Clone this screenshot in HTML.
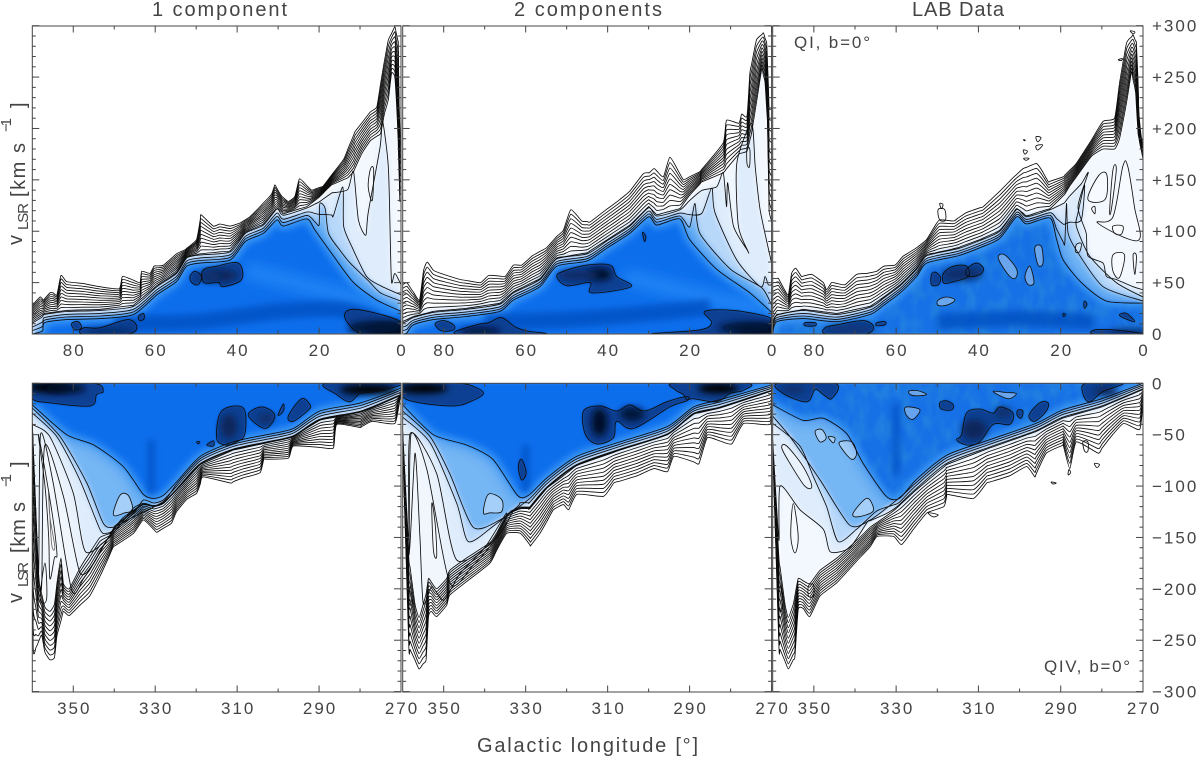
<!DOCTYPE html>
<html lang="en">
<head>
<meta charset="utf-8">
<title>Galactic longitude-velocity diagrams</title>
<style>
html,body{margin:0;padding:0;background:#fff;width:1200px;height:759px;overflow:hidden}
svg{display:block}
text{font-family:"Liberation Sans",sans-serif;fill:#444}
.tick-label{font-size:17px;letter-spacing:2px}
.title{font-size:20px}
.ylab{font-size:20px}
.ysub{font-size:15px}
.note{font-size:17px}
</style>
</head>
<body>
<svg id="fig" xmlns="http://www.w3.org/2000/svg" width="1200" height="759" viewBox="0 0 1200 759">
<defs>
<filter id="soft" filterUnits="userSpaceOnUse" x="0" y="0" width="1200" height="759"><feGaussianBlur stdDeviation="2.6"/></filter>
<filter id="tight" filterUnits="userSpaceOnUse" x="0" y="0" width="1200" height="759"><feGaussianBlur stdDeviation="1"/></filter>
<filter id="softer" filterUnits="userSpaceOnUse" x="0" y="0" width="1200" height="759"><feGaussianBlur stdDeviation="3.5"/></filter>
<filter id="softest" filterUnits="userSpaceOnUse" x="0" y="0" width="1200" height="759"><feGaussianBlur stdDeviation="7"/></filter>
<filter id="mottle" x="0" y="0" width="100%" height="100%">
<feTurbulence type="fractalNoise" baseFrequency="0.09 0.05" numOctaves="2" seed="7"/>
<feColorMatrix type="matrix" values="0 0 0 0 0.02  0 0 0 0 0.25  0 0 0 0 0.72  1.6 0 0 0 -0.62"/>
</filter>
</defs>
<rect width="1200" height="759" fill="#fff"/>
<g id="plots"></g>
<text class="title" x="152" y="16" textLength="135" lengthAdjust="spacing">1 component</text>
<text class="title" x="514" y="16" textLength="148" lengthAdjust="spacing">2 components</text>
<text class="title" x="912" y="16" textLength="92" lengthAdjust="spacing">LAB Data</text>
<text class="note" x="794" y="48" textLength="76" lengthAdjust="spacing">QI, b=0°</text>
<text class="note" x="1044" y="672" textLength="86" lengthAdjust="spacing">QIV, b=0°</text>
<text class="title" x="477" y="752" textLength="221" lengthAdjust="spacing">Galactic longitude [°]</text>
<g>
<text class="ylab" transform="translate(22,245) rotate(-90)">v</text>
<text class="ysub" transform="translate(28,230) rotate(-90)" textLength="27" lengthAdjust="spacing">LSR</text>
<text class="ylab" transform="translate(25,197) rotate(-90)" textLength="54" lengthAdjust="spacing">[km s</text>
<text class="ysub" transform="translate(11,132) rotate(-90)" textLength="14" lengthAdjust="spacing">−1</text>
<text class="ylab" transform="translate(25,108) rotate(-90)">]</text>
</g>
<g>
<text class="ylab" transform="translate(22,603) rotate(-90)">v</text>
<text class="ysub" transform="translate(28,587) rotate(-90)" textLength="25" lengthAdjust="spacing">LSR</text>
<text class="ylab" transform="translate(25,553) rotate(-90)" textLength="51" lengthAdjust="spacing">[km s</text>
<text class="ysub" transform="translate(11,487) rotate(-90)" textLength="13" lengthAdjust="spacing">−1</text>
<text class="ylab" transform="translate(25,467) rotate(-90)">]</text>
</g>
</svg>
<script>
// ---- tick data ----
const lonMajorTop = [80, 60, 40, 20, 0];
const lonMinorTop = [70, 50, 30, 10];
const lonMajorBottom = [350, 330, 310, 290, 270];
const lonMinorBottom = [340, 320, 300, 280];
const velMajorTop = [0, 50, 100, 150, 200, 250, 300];
const velMinorTop = [10, 20, 30, 40, 60, 70, 80, 90, 110, 120, 130, 140, 160, 170, 180, 190, 210, 220, 230, 240, 260, 270, 280, 290];
const velMajorBottom = [0, -50, -100, -150, -200, -250, -300];
const velMinorBottom = [-10, -20, -30, -40, -60, -70, -80, -90, -110, -120, -130, -140, -160, -170, -180, -190, -210, -220, -230, -240, -260, -270, -280, -290];
const velLabelsTop = ["0", "+50", "+100", "+150", "+200", "+250", "+300"];
const velLabelsBottom = ["0", "−50", "−100", "−150", "−200", "−250", "−300"];
const stackLevels = [0, 0.1, 0.2, 0.3, 0.4, 0.5, 0.6, 0.7, 0.8, 0.9, 1];

// ---- Quadrant I, 1 component: [longitude, velocity] ----
const edgeQ1One = [[90,28],[88.1,36],[87.3,33],[85.7,40],[84.9,40],[84,38],[83,57],[81.6,51],[77.5,49],[73.5,46],[68.8,44],[68,56],[65.7,53],[63.7,50],[63.3,61],[61.3,59],[60.3,66],[58,67],[54.8,78],[52.7,82],[49.9,92],[48.8,116],[45.8,105],[44.2,107],[41.7,105],[39.3,108],[36.9,114],[34.4,124],[31.6,136],[30.8,145],[29.1,134],[27.5,129],[25.9,134],[24.8,151],[21.8,140],[19,144],[16.5,157],[14,170],[11.2,197],[7.5,216],[5.9,221],[4.3,260],[3.1,286],[1.5,299],[0.65,283],[0.5,228],[0.2,190],[0,190]];
const baseQ1One = [[90,12],[87,20],[81.6,23],[73.5,24],[65.3,28],[59.6,47],[54.8,60],[52.3,75],[49,78],[41.7,81],[38,99],[33.6,107],[30.3,123],[28.7,117],[23,124],[20,133],[17,145],[13,152],[11.6,158],[9.5,176],[7.5,188],[5,195],[4,215],[3.1,228],[2.3,254],[1.5,250],[1.1,225],[0.7,190],[0.3,130],[0,130]];
const ridgeQ1One = [[90,0],[87.5,3],[87,11],[81.6,14],[73.5,15],[65.3,19],[59.6,38],[54.8,51],[52.3,66],[49,69],[41.7,72],[38,90],[33.6,98],[30.3,111],[28.7,105],[23,112],[21,101],[16.5,76],[11.6,50],[5.9,33],[0,22]];
const fan1Q1One = [[19.8,127],[18.5,122],[17.7,98],[15,82],[12.4,69],[8,52],[5,40],[0,32]];
const fan2Q1One = [[14.2,143],[14,105],[12,85],[8.4,56],[5,47],[0,38]];
const fan3Q1One = [[11.6,158],[10.4,111],[8.6,96],[8,118],[5.1,182],[4.5,207],[3.1,163],[2.6,90],[2.3,50],[1.5,59],[0,48]];
const darkQ1One = [
 [[51.5,56],[50.3,61],[48.7,56],[49.5,48],[51.1,50]],
 [[48.3,62],[45,66],[39.7,69],[38.9,53],[43.4,46],[44.6,50],[48.1,50]],
 [[77.5,0],[77.5,6],[73.5,6],[66.6,14],[64.5,6],[67,0]],
 [[80.4,10],[78.8,12],[78,6],[79.6,4]],
 [[64.1,17],[62.9,20],[62.7,15],[63.7,13]],
 [[13.7,20],[11.6,24],[5.9,20],[0.2,12],[0.2,0],[9.2,0],[12.9,10]]
];
const paleQ1One = [[[7.5,160],[6.7,160],[7,130],[8,143]]];
const coreQ1One = [[2,4,6,6,"#000"],[6,6,7,7,"#05133a"],[71,3,6,3,"#062a6a"],[44,57,4,6,"#08285c"],[47,56,3,5,"#0a3270"]];
const bandQ1One = [[70,10],[50,12],[30,22],[15,24],[6,14]];
const glowQ1One = [[38,62],[26,50],[12,35],[2,26]];

// ---- Quadrant I, 2 components ----
const edgeQ1Two = [[90,48],[89,50],[87.8,43],[85.9,33],[84.9,62],[84,70],[82.5,62],[80,58],[76,53],[71,50],[69,57],[65,56],[63,67],[61,67],[58.4,76],[54.9,84],[52.4,95],[50.8,101],[49,121],[46.3,110],[44.3,109],[41,119],[37,131],[34.6,139],[31.3,156],[29.8,157],[28.7,161],[26.4,153],[24.8,172],[21.5,150],[20,153],[17.5,158],[11.8,186],[11,208],[8,205],[7.3,214],[6,212],[5.3,254],[3.7,286],[2,293],[1.2,283],[0.8,244],[0.8,220],[0,219]];
const baseQ1Two = [[90,12],[87.4,17],[82.5,22],[74.4,25],[66.3,30],[63,41],[56.5,54],[52.4,74],[45,79],[40,92],[34.6,106],[30,124],[28,116],[22.4,122],[20,135],[17,148],[11.8,157],[8,175],[6,178],[4.9,195],[3.7,225],[2.4,258],[1.6,245],[1,205],[0.6,120],[0,110]];
const ridgeQ1Two = [[90,0],[89,1],[87.4,9],[82.5,14],[74.4,17],[66.3,22],[63,33],[56.5,46],[52.4,66],[45,71],[40,84],[34.6,98],[30,114],[28,106],[22.4,112],[20,92],[13.4,63],[5.3,40],[0,21]];
const fan1Q1Two = [[18.7,127],[17.5,98],[10,63],[2.4,45],[0,28]];
const fan2Q1Two = [[14.6,142],[13.8,118],[8.5,72],[2.7,46],[1.6,56],[0.8,48],[0,48]];
const fan3Q1Two = [[11.8,157],[11,124],[10.7,147],[9.3,105],[6,82],[5.7,80],[8.1,105],[8.5,166],[4.9,205],[4,163],[2.8,121],[0.4,76],[0,70]];
const darkQ1Two = [
 [[82.1,10],[80,13],[77.6,9],[77.6,4],[80.5,3]],
 [[76.8,0],[72,9],[69,11],[65.9,16],[62.6,7],[59.8,3],[55.7,0]],
 [[52.4,56],[50.8,61],[45.1,67],[39.4,67],[37.8,56],[34.3,46],[43.9,40],[44.3,50],[50,47]],
 [[16.3,22],[9.3,23],[1.2,17],[0.2,12],[0.2,0],[28.9,0],[17.5,4],[14.6,11]],
 [[31.5,99],[30.7,95],[31,90]]
];
const paleQ1Two = [[[6,181],[5.3,179],[5.4,163],[6,166]]];
const coreQ1Two = [[2,4,7,5,"#000"],[6,6,7,6,"#05133a"],[71,3,5,3,"#020c2a"],[42,58,3,6,"#020c2a"],[47,57,5,5,"#0a2c66"]];
const bandQ1Two = [[70,12],[50,14],[30,20],[15,26]];
const glowQ1Two = [[36,56],[26,46],[12,32],[2,24]];

// ---- Quadrant I, LAB data ----
const edgeQ1Lab = [[90,54],[88.6,54],[87.4,45],[86.2,38],[85.4,59],[84.4,64],[83,56],[80.5,58],[77.7,50],[76.9,43],[75.7,50],[72.4,48],[69.6,58],[67.1,59],[64.7,61],[63,66],[60.3,67],[58.2,76],[55,84],[52.6,92],[50.6,105],[49.4,111],[46,110],[43,118],[38.8,124],[34.8,139],[31.6,152],[29.1,161],[25.9,166],[24.7,160],[23,148],[19.4,153],[16.2,166],[12.5,189],[9.7,207],[6.9,210],[5.7,244],[4,283],[2.4,291],[1.6,283],[1.2,244],[1,215],[0.4,191],[0,189]];
const baseQ1Lab = [[90,12],[89,19],[82.5,24],[74.4,20],[66.3,27],[63,36],[59,48],[55,64],[52.6,77],[45,84],[39.6,92],[34.8,101],[30.7,122],[28.3,115],[22.6,122],[19,136],[17.8,144],[12.5,173],[9.7,180],[6.9,180],[5.7,190],[4,225],[2.8,255],[1.8,235],[1.2,195],[0,170]];
const ridgeQ1Lab = [[90,0],[89,12],[82.5,15],[74.4,12],[66.3,19],[63,28],[59,40],[55,56],[52.6,69],[45,76],[39.6,84],[34.8,93],[30.7,114],[28.3,107],[22.6,113],[21,92],[19.4,72],[15,50],[8.9,32],[0,30]];
const fan1Q1Lab = [[18.6,127],[18.2,98],[15.8,79],[9.7,46],[0,32]];
const fan2Q1Lab = [[14.2,145],[15.8,118],[16.2,105],[13,76],[6.5,50],[0,36]];
const fan3Q1Lab = [[13.3,157],[15.8,124],[13.8,98],[13.4,76],[9.7,69],[8.9,56],[6.5,53],[2.4,46],[0,43]];
const darkQ1Lab = [
 [[51.4,58],[50.4,60],[49.2,55],[49.7,48],[51.4,48]],
 [[48.5,59],[46.1,66],[42.9,66],[42.5,56],[46.9,50],[48.5,50]],
 [[42.9,63],[40.5,69],[38.8,64],[39.6,58],[42.5,56]],
 [[77.3,6],[74.4,9],[68,13],[65.5,7],[67.6,0],[76.9,0]],
 [[82.1,11],[79.7,11],[79.7,8],[82.1,8]],
 [[64.7,11],[62.7,12],[62.7,9],[64.7,8]],
 [[11.7,4],[6.9,4],[0.8,1],[0.8,0],[11.7,0]],
 [[5.7,19],[4,20],[2,12],[4.9,16]],
 [[14.2,32],[13.6,29],[14.2,25],[14.4,29]],
 [[19.4,20],[18.8,19],[19.3,17]]
];
const paleQ1Lab = [
 [[49.8,33],[47.7,36],[45.7,33],[47.7,28],[49.8,28]],
 [[35.2,74],[33.6,77],[30.7,63],[31.1,54],[32.8,58]],
 [[26.3,84],[24.7,85],[24.3,69],[25.5,67]],
 [[28.7,56],[27.5,66],[26.5,50],[27.9,48]],
 [[13.4,131],[10.8,154],[8.8,155],[9.2,131]],
 [[8.1,121],[7.3,160],[6.5,160],[7.7,121]],
 [[11,108],[7.3,114],[4.9,163],[3.7,163],[2.1,124],[1.2,91]],
 [[7.3,77],[4.5,77],[5.7,55],[7.3,61]],
 [[7.3,105],[4.9,105],[5.3,97],[6.9,98]],
 [[2.4,77],[1.6,76],[2,58]],
 [[12.5,122],[11.7,124],[11.7,117]],
 [[16.2,87],[15,88],[15.4,80],[16.4,80]]
];
const strayQ1Lab = [
 [[29.1,189],[28.7,189],[28.7,188]],
 [[26,192],[24.8,191],[25.6,187]],
 [[26,183],[24.4,184],[25.6,179]],
 [[29.1,179],[28.1,178],[28.7,175]],
 [[29,171],[27.7,171],[28.4,169]],
 [[6,267],[5,268],[5.3,266]],
 [[3.1,295],[2,294],[2.4,292]],
 [[49.4,127],[48.6,126],[49,122]],
 [[49.8,121],[48.2,121],[48,111],[49.4,111]]
];
const coreQ1Lab = [[3,2,5,3,"#06245c"],[44,58,5,6,"#0a2f6a"],[71,5,6,4,"#0a3478"]];
const bandQ1Lab = [[50,12],[30,15],[12,12]];
const glowQ1Lab = [];

// ---- Quadrant IV, 1 component ----
const edgeQ4One = [[360,-60],[359.8,-256],[359.1,-257],[357.7,-245],[356.9,-262],[355.7,-269],[354.6,-267],[354,-246],[352.4,-222],[351,-226],[348.4,-216],[346,-207],[343.5,-188],[340.2,-159],[335.3,-146],[332.9,-133],[329.6,-145],[326,-136],[324.8,-125],[322.3,-113],[319.9,-107],[318.3,-91],[311.7,-97],[308.5,-92],[304.4,-87],[303.5,-74],[297.5,-73],[296.3,-61],[286.5,-63],[285.7,-40],[280,-43],[277,-37],[271.5,-39],[270.2,-13],[270,-10]];
const baseQ4One = [[360,-40],[358.5,-190],[357.7,-205],[356.9,-218],[355.7,-222],[354.6,-215],[354,-195],[353,-170],[352.4,-195],[351,-200],[348.4,-180],[346,-165],[343.5,-150],[341,-146],[339.8,-140],[335.3,-125],[332.9,-118],[330.4,-120],[328,-117],[324.8,-104],[319,-79],[311,-65],[302.8,-58],[296.3,-52],[289.8,-36],[279.8,-28],[270.2,-12],[270,-10]];
const ridgeQ4One = [[360,-21],[351.6,-50],[345,-60],[337.8,-81],[332.9,-108],[330.4,-112],[328,-109],[324.8,-96],[319,-71],[311,-57],[302.8,-50],[296.3,-44],[289.8,-27],[279.8,-19],[270.2,-5],[270,-4]];
const fan1Q4One = [[360,-24],[353.2,-52],[346.7,-97],[342.7,-136],[340.2,-140],[335.3,-130],[328,-115]];
const fan2Q4One = [[360,-29],[354,-52],[348.4,-94],[343.5,-142],[341.9,-146],[339.8,-142],[335,-125]];
const fan3Q4One = [[360,-40],[355.7,-52],[350,-107],[347,-164],[341,-149],[337,-130]];
const fan4Q4One = [[357,-61],[352.4,-110],[348.4,-184],[345,-175],[343,-160],[339,-136]];
const fan5Q4One = [[358,-50],[354.9,-97],[350.4,-201],[347.5,-190],[344,-168],[340,-140]];
const darkQ4One = [
 [[360,-15],[355.7,-19],[345.9,-22],[344.3,-11],[342.7,-8],[345.1,0],[360,0]],
 [[288.2,0],[285.7,-11],[282.5,-18],[280,-10],[276,-8],[270.2,-2],[270.2,0]],
 [[315,-53],[313.8,-27],[308.5,-24],[308.1,-49],[310.1,-57],[313,-60]],
 [[307.3,-31],[304,-23],[300.8,-31],[303.2,-44]],
 [[300,-31],[298.7,-20],[298.7,-27]],
 [[297.5,-32],[294.3,-15],[292.2,-21],[292.6,-26],[296.3,-37]],
 [[317.4,-60],[315.8,-56],[315.8,-61]],
 [[319.9,-57],[319.1,-57],[319.5,-59]]
];
const paleQ4One = [
 [[340.2,-128],[338.6,-109],[336.6,-109],[335.5,-123],[337.4,-126]],
 [[358.1,-210],[356.9,-175],[356.5,-210]],
 [[356,-107],[355.7,-130],[354.5,-159],[355.3,-156]],
 [[358.5,-50],[356.9,-100],[356,-150],[355.7,-190],[354.6,-170],[354,-165],[355.4,-120]]
];
const coreQ4One = [[356,-4,5,5,"#000"],[352,-5,5,5,"#020c2a"],[278,-6,7,5,"#000"],[312,-42,2,12,"#07255c"],[303,-34,2,5,"#0a2f6a"]];
const bandQ4One = [[331,-55],[331,-108]];
const glowQ4One = [];

// ---- Quadrant IV, 2 components ----
const edgeQ4Two = [[360,-60],[360,-240],[358.2,-259],[356,-278],[354.3,-269],[353.7,-227],[353,-222],[351.7,-227],[349.3,-216],[348.5,-206],[344.4,-193],[338.7,-175],[337,-162],[334.6,-146],[331.3,-146],[328.8,-158],[326.5,-146],[323.2,-123],[320.8,-118],[319.5,-123],[317.5,-108],[311,-110],[308.5,-97],[302.8,-90],[298.7,-83],[295.4,-86],[293.8,-71],[287.7,-78],[285.7,-53],[279.7,-59],[276.8,-39],[270.4,-40],[270,-19]];
const baseQ4Two = [[360,-50],[358.5,-170],[357,-215],[356,-228],[355,-215],[354.3,-205],[353.7,-190],[351.7,-200],[349.3,-190],[348.5,-182],[344.4,-170],[338.7,-155],[337,-145],[334.6,-128],[331.3,-122],[329,-122],[324.8,-102],[317.5,-80],[307,-65],[295.4,-50],[289,-30],[282.6,-24],[270.4,-8],[270,-7]];
const ridgeQ4Two = [[360,-21],[352.5,-50],[344.4,-60],[338,-74],[332,-109],[329.3,-109],[324.8,-92],[317.5,-71],[307,-57],[295.4,-42],[289,-23],[282.6,-16],[270.4,-2],[270,-1]];
const fan1Q4Two = [[360,-27],[353.3,-52],[348.5,-88],[342.8,-140],[336.3,-133],[329,-112]];
const fan2Q4Two = [[360,-33],[353.3,-58],[346.8,-117],[344,-154],[337.9,-139],[332,-120]];
const fan3Q4Two = [[358.2,-49],[351.7,-88],[346.8,-172],[337,-150],[333,-124]];
const fan4Q4Two = [[358,-50],[354.1,-84],[348.5,-194],[343,-178],[338,-155],[334,-126]];
const fan5Q4Two = [[357,-68],[355.8,-149],[355,-214],[352.9,-198],[350,-211],[346,-185],[340,-160],[335,-128]];
const darkQ4Two = [
 [[360,-13],[355.8,-19],[347.6,-22],[343.6,-18],[340.3,-10],[342.8,-3],[346.8,0],[360,0]],
 [[293.6,0],[293.6,-6],[291.5,-11],[290.7,-16],[289.1,-15],[283.4,-18],[280.2,-10],[276.9,-7],[276,0]],
 [[315.9,-27],[311.9,-22],[307.8,-27],[304.6,-21],[300.9,-27],[295.6,-18],[290.7,-13],[290.7,-17],[294.8,-23],[303.7,-44],[307.8,-37],[308.6,-53],[312.7,-59],[315.5,-49]],
 [[331.8,-81],[331,-74],[329.9,-87],[331,-94]]
];
const paleQ4Two = [
 [[340.3,-126],[339.1,-108],[335.9,-113],[335.9,-125],[338.7,-126]],
 [[352.9,-117],[352.1,-136],[351.7,-168],[352.5,-162]],
 [[358.2,-198],[357.6,-214],[358.4,-214]]
];
const coreQ4Two = [[355,-5,6,5,"#000"],[283,-5,5,5,"#000"],[312,-38,2,14,"#020c2a"],[304,-30,3,7,"#05163a"]];
const bandQ4Two = [[330,-60],[330,-105]];
const glowQ4Two = [];

// ---- Quadrant IV, LAB data ----
const edgeQ4Lab = [[360,-60],[360,-240],[358.2,-259],[356.2,-278],[354.6,-266],[353.8,-220],[352.6,-219],[351,-227],[348.5,-207],[344.4,-194],[339.6,-173],[336.3,-159],[334.6,-149],[330.6,-149],[328.7,-157],[325.8,-142],[322.5,-126],[318.4,-120],[317.6,-108],[311.2,-112],[308,-97],[302.4,-90],[298.3,-81],[296.3,-91],[293.5,-68],[289.4,-60],[287.8,-83],[286.2,-57],[280.9,-68],[278,-53],[274.7,-39],[270.8,-45],[270,-19]];
const baseQ4Lab = [[360,-60],[358.5,-170],[357,-215],[356.2,-228],[355,-215],[353.8,-190],[351,-195],[348.5,-182],[344.4,-170],[339.6,-153],[336.3,-140],[330.6,-124],[325.2,-104],[317.7,-79],[307.3,-63],[296,-47],[289.6,-34],[280,-23],[270,-6]];
const ridgeQ4Lab = [[360,-21],[352.6,-36],[347.7,-34],[342,-49],[338,-78],[332.4,-110],[329.2,-112],[325.2,-94],[317.7,-70],[307.3,-55],[296,-39],[289.6,-26],[280,-15],[270,0]];
const fan1Q4Lab = [[360,-32],[355.8,-52],[348.5,-94],[341.3,-138],[336.3,-133],[328.2,-108]];
const fan2Q4Lab = [[360,-39],[353.4,-61],[350.1,-91],[346.9,-120],[344.1,-154],[339.6,-142],[335,-125]];
const fan3Q4Lab = [[358.2,-100],[353.4,-123],[347.7,-142],[346,-164],[341.3,-160],[337,-135]];
const darkQ4Lab = [
 [[314.1,-50],[312.9,-29],[309.7,-25],[306.4,-29],[304.8,-23],[301.6,-29],[302.4,-40],[306.4,-40],[309.7,-57],[312.9,-60],[315.3,-55]],
 [[319.4,-19],[317.8,-17],[316.1,-21],[316.6,-26],[319,-25]],
 [[300.4,-26],[299.2,-27],[299.6,-34],[300.6,-31]],
 [[297.7,-31],[295.1,-19],[293.1,-19],[293.5,-27],[296.3,-37]],
 [[358.6,0],[357.4,-10],[351.7,-18],[349.7,-6],[347.7,-11],[345.7,-15],[344.9,0]],
 [[284.6,-10],[283,-18],[279.7,-8],[274.9,0],[283.8,0]]
];
const paleQ4Lab = [
 [[349.7,-47],[348.1,-45],[347,-53],[348.5,-57]],
 [[346.5,-52],[344.9,-53],[345.3,-58]],
 [[343.7,-57],[340.8,-57],[339.6,-68],[340.8,-74],[343.3,-63]],
 [[357.8,-63],[356.6,-61],[352.6,-81],[350.5,-100],[352.2,-100],[355.8,-78]],
 [[327.9,-24],[326.7,-23],[324.2,-26],[325.9,-35],[327.5,-31]],
 [[327,-8],[325,-7],[322.6,-11],[325.9,-12]],
 [[306.4,-8],[303.2,-9],[300.8,-10],[302.8,-15]],
 [[340.4,-126],[337.2,-112],[335.6,-120],[336,-126],[339.6,-130]],
 [[355,-117],[353.8,-149],[354.6,-165],[355.6,-149]],
 [[358,-198],[357.5,-215],[358.2,-222],[358.7,-205]],
 [[351.3,-197],[350.1,-196],[350.1,-207],[351.3,-207]]
];
const strayQ4Lab = [
 [[284.6,-57],[283.4,-57],[283.4,-66],[284.2,-66]],
 [[281.8,-78],[280.6,-79],[281.2,-82]],
 [[292.3,-96],[291.1,-97],[291.9,-98]],
 [[322.2,-126],[319.8,-128],[321,-130]],
 [[288,-84],[287.6,-87],[288.2,-89]]
];
const coreQ4Lab = [[311,-45,3,10,"#07255c"],[304,-28,2,5,"#0a2f6a"],[355,-6,3,4,"#0a2f6a"],[279,-8,3,5,"#0a2a60"]];
const bandQ4Lab = [[330,-20],[330,-90]];
const glowQ4Lab = [];

// ---- layout ----
const panelConfigs = [
  {key:"q1-one", lab:false, left:32.3, right:401, top:26, bottom:334, lonL:90, lonR:0, zeroY:334, edge:edgeQ1One, base:baseQ1One, ridge:ridgeQ1One, fans:[fan1Q1One,fan2Q1One,fan3Q1One], dark:darkQ1One, pale:paleQ1One, stray:[], core:coreQ1One, band:bandQ1One, glow:glowQ1One, blue:"#0a6eec", major:lonMajorTop, minor:lonMinorTop, vMajor:velMajorTop, vMinor:velMinorTop},
  {key:"q1-two", lab:false, left:402.7, right:771.6, top:26, bottom:334, lonL:90, lonR:0, zeroY:334, edge:edgeQ1Two, base:baseQ1Two, ridge:ridgeQ1Two, fans:[fan1Q1Two,fan2Q1Two,fan3Q1Two], dark:darkQ1Two, pale:paleQ1Two, stray:[], core:coreQ1Two, band:bandQ1Two, glow:glowQ1Two, blue:"#0a6eec", major:lonMajorTop, minor:lonMinorTop, vMajor:velMajorTop, vMinor:velMinorTop},
  {key:"q1-lab", lab:true, left:772.7, right:1143, top:26, bottom:334, lonL:90, lonR:0, zeroY:334, edge:edgeQ1Lab, base:baseQ1Lab, ridge:ridgeQ1Lab, fans:[fan1Q1Lab,fan2Q1Lab,fan3Q1Lab], dark:darkQ1Lab, pale:paleQ1Lab, stray:strayQ1Lab, core:coreQ1Lab, band:bandQ1Lab, glow:glowQ1Lab, blue:"#1470e6", major:lonMajorTop, minor:lonMinorTop, vMajor:velMajorTop, vMinor:velMinorTop, labels:velLabelsTop},
  {key:"q4-one", lab:false, left:32.3, right:401, top:383.3, bottom:692, lonL:360, lonR:270, zeroY:383.3, edge:edgeQ4One, base:baseQ4One, ridge:ridgeQ4One, fans:[fan1Q4One,fan2Q4One,fan3Q4One,fan4Q4One,fan5Q4One], dark:darkQ4One, pale:paleQ4One, stray:[], core:coreQ4One, band:bandQ4One, glow:glowQ4One, blue:"#0a6eec", major:lonMajorBottom, minor:lonMinorBottom, vMajor:velMajorBottom, vMinor:velMinorBottom},
  {key:"q4-two", lab:false, left:402.7, right:771.6, top:383.3, bottom:692, lonL:360, lonR:270, zeroY:383.3, edge:edgeQ4Two, base:baseQ4Two, ridge:ridgeQ4Two, fans:[fan1Q4Two,fan2Q4Two,fan3Q4Two,fan4Q4Two,fan5Q4Two], dark:darkQ4Two, pale:paleQ4Two, stray:[], core:coreQ4Two, band:bandQ4Two, glow:glowQ4Two, blue:"#0a6eec", major:lonMajorBottom, minor:lonMinorBottom, vMajor:velMajorBottom, vMinor:velMinorBottom},
  {key:"q4-lab", lab:true, left:772.7, right:1143, top:383.3, bottom:692, lonL:360, lonR:270, zeroY:383.3, edge:edgeQ4Lab, base:baseQ4Lab, ridge:ridgeQ4Lab, fans:[fan1Q4Lab,fan2Q4Lab,fan3Q4Lab], dark:darkQ4Lab, pale:paleQ4Lab, stray:strayQ4Lab, core:coreQ4Lab, band:bandQ4Lab, glow:glowQ4Lab, blue:"#1470e6", major:lonMajorBottom, minor:lonMinorBottom, vMajor:velMajorBottom, vMinor:velMinorBottom, labels:velLabelsBottom}
];
const fanBlend = [0.72, 0.44, 0.12, 0.05, 0.02];
const fanFill = ["#74b6f4", "#b8d8f9", "#dfecfb", "#e9f2fc", "#f1f6fd"];

const NS = "http://www.w3.org/2000/svg";
const plots = document.getElementById("plots");

function at(series, l) {
  if (l >= series[0][0]) return series[0][1];
  for (let i = 1; i < series.length; i++) {
    const a = series[i - 1], b = series[i];
    if (l >= b[0] && a[0] !== b[0]) {
      return a[1] + (b[1] - a[1]) * (a[0] - l) / (a[0] - b[0]);
    }
  }
  return series[series.length - 1][1];
}
function lonsOf(a, b) {
  const s = new Set();
  a.forEach(p => s.add(p[0]));
  b.forEach(p => s.add(p[0]));
  return Array.from(s).sort((x, y) => y - x);
}
function mix(a, b, f) {
  return lonsOf(a, b).map(l => [l, at(a, l) + (at(b, l) - at(a, l)) * f]);
}
function fanLine(fan, base, ridge, f) {
  const first = fan[0][0], last = fan[fan.length - 1][0];
  const blended = mix(base, ridge, f);
  return blended.filter(p => p[0] > first).concat(fan, blended.filter(p => p[0] < last));
}

function drawPanel(c) {
  const sx = (c.right - c.left) / (c.lonL - c.lonR);
  const sy = 308.3 / 300;
  const xAxis = l => c.left + (c.lonL - l) * sx;
  const yAxis = v => c.zeroY - v * sy;
  // cardinal-spline path through data points, mapped by the axis functions
  function curve(pts, closed, tension) {
    const P = pts.map(p => [xAxis(p[0]), yAxis(p[1])]);
    const n = P.length;
    if (n < 2) return "";
    let s = "M" + P[0][0].toFixed(1) + " " + P[0][1].toFixed(1);
    const get = i => closed ? P[(i + n) % n] : P[Math.max(0, Math.min(n - 1, i))];
    const segs = closed ? n : n - 1;
    for (let i = 0; i < segs; i++) {
      const p0 = get(i - 1), p1 = get(i), p2 = get(i + 1), p3 = get(i + 2);
      const c1x = p1[0] + (p2[0] - p0[0]) * tension, c1y = p1[1] + (p2[1] - p0[1]) * tension;
      const c2x = p2[0] - (p3[0] - p1[0]) * tension, c2y = p2[1] - (p3[1] - p1[1]) * tension;
      s += "C" + c1x.toFixed(1) + " " + c1y.toFixed(1) + " " + c2x.toFixed(1) + " " + c2y.toFixed(1) + " " + p2[0].toFixed(1) + " " + p2[1].toFixed(1);
    }
    return s + (closed ? "Z" : "");
  }
  const area = pts => curve(pts, false, 0.12) + "L" + xAxis(pts[pts.length - 1][0]).toFixed(1) + " " + yAxis(0).toFixed(1) + "L" + xAxis(pts[0][0]).toFixed(1) + " " + yAxis(0).toFixed(1) + "Z";

  const panel = document.createElementNS(NS, "g");
  
  
  plots.appendChild(panel);

  const clip = document.createElementNS(NS, "clipPath");
  clip.setAttribute("id", "clip-" + c.key);
  const clipRect = document.createElementNS(NS, "rect");
  clipRect.setAttribute("x", c.left);
  clipRect.setAttribute("y", c.top);
  clipRect.setAttribute("width", c.right - c.left);
  clipRect.setAttribute("height", c.bottom - c.top);
  clip.appendChild(clipRect);
  panel.appendChild(clip);

  const ridgeClip = document.createElementNS(NS, "clipPath");
  ridgeClip.setAttribute("id", "ridgeclip-" + c.key);
  const ridgeClipPath = document.createElementNS(NS, "path");
  ridgeClipPath.setAttribute("d", area(c.ridge));
  ridgeClip.appendChild(ridgeClipPath);
  panel.appendChild(ridgeClip);

  const holder = document.createElementNS(NS, "g");
  holder.setAttribute("clip-path", "url(#clip-" + c.key + ")");
  
  
  panel.appendChild(holder);

  // ---- blurred intensity fill ----
  const fills = document.createElementNS(NS, "g");
  fills.setAttribute("filter", "url(#soft)");
  
  
  holder.appendChild(fills);

  function fillArea(parent, pts, color, name) {
    const el = document.createElementNS(NS, "path");
    el.setAttribute("d", area(pts));
    el.setAttribute("fill", color);
    
    
    parent.appendChild(el);
  }
  fillArea(fills, c.base, "#f3f8fe", "emission-pale-region");
  for (let i = c.fans.length - 1; i >= 0; i--) {
    fillArea(fills, fanLine(c.fans[i], c.base, c.ridge, fanBlend[i]), fanFill[i], "emission-band-" + i);
  }
  const halo = document.createElementNS(NS, "g");
  halo.setAttribute("filter", "url(#softest)");
  halo.setAttribute("opacity", "0.75");
  
  
  holder.appendChild(halo);
  fillArea(halo, c.ridge, c.blue, "emission-halo-region");

  const sat = document.createElementNS(NS, "g");
  sat.setAttribute("filter", "url(#tight)");
  
  
  holder.appendChild(sat);
  fillArea(sat, c.ridge, c.blue, "emission-saturated-region");

  const inner = document.createElementNS(NS, "g");
  inner.setAttribute("clip-path", "url(#ridgeclip-" + c.key + ")");
  
  
  holder.appendChild(inner);

  if (c.lab) {
    const noise = document.createElementNS(NS, "rect");
    noise.setAttribute("x", c.left);
    noise.setAttribute("y", c.top);
    noise.setAttribute("width", c.right - c.left);
    noise.setAttribute("height", c.bottom - c.top);
    noise.setAttribute("filter", "url(#mottle)");
    
    
    inner.appendChild(noise);
  }

  const rim = document.createElementNS(NS, "path");
  rim.setAttribute("d", curve(c.ridge, false, 0.12));
  rim.setAttribute("fill", "none");
  rim.setAttribute("stroke", "#3f9bf6");
  rim.setAttribute("stroke-width", "7");
  rim.setAttribute("filter", "url(#softer)");
  
  
  inner.appendChild(rim);

  if (c.glow.length > 1) {
    const glow = document.createElementNS(NS, "path");
    glow.setAttribute("d", curve(c.glow, false, 0.15));
    glow.setAttribute("fill", "none");
    glow.setAttribute("stroke", "#2387f6");
    glow.setAttribute("stroke-width", "14");
    glow.setAttribute("filter", "url(#softest)");
    
    
    inner.appendChild(glow);
  }
  const band = document.createElementNS(NS, "path");
  band.setAttribute("d", curve(c.band, false, 0.15));
  band.setAttribute("fill", "none");
  band.setAttribute("stroke", "#0450c0");
  band.setAttribute("stroke-width", c.vMajor[1] < 0 ? "7" : "16");
  band.setAttribute("stroke-opacity", "0.8");
  band.setAttribute("filter", "url(#softer)");
  
  
  inner.appendChild(band);

  c.pale.forEach(pts => {
    const el = document.createElementNS(NS, "path");
    el.setAttribute("d", curve(pts, true, 0.17));
    el.setAttribute("fill", "#fff");
    el.setAttribute("fill-opacity", "0.35");
    el.setAttribute("stroke", "#111");
    el.setAttribute("stroke-width", "0.85");
    
    
    holder.appendChild(el);
  });
  c.dark.forEach(pts => {
    const el = document.createElementNS(NS, "path");
    el.setAttribute("d", curve(pts, true, 0.17));
    el.setAttribute("fill", "#0c3f92");
    el.setAttribute("filter", "url(#tight)");
    
    
    holder.appendChild(el);
  });
  c.core.forEach(o => {
    const el = document.createElementNS(NS, "ellipse");
    el.setAttribute("cx", xAxis(o[0]));
    el.setAttribute("cy", yAxis(o[1]));
    el.setAttribute("rx", o[2] * sx);
    el.setAttribute("ry", o[3] * sy);
    el.setAttribute("fill", o[4]);
    el.setAttribute("filter", "url(#softer)");
    
    
    holder.appendChild(el);
  });

  // ---- contour lines ----
  const lines = document.createElementNS(NS, "g");
  lines.setAttribute("fill", "none");
  lines.setAttribute("stroke", "#0c0c0c");
  lines.setAttribute("stroke-width", "0.85");
  lines.setAttribute("stroke-linejoin", "round");
  
  
  holder.appendChild(lines);

  stackLevels.forEach((f, i) => {
    const el = document.createElementNS(NS, "path");
    el.setAttribute("d", curve(mix(c.edge, c.base, f), false, 0.08));
    
    
    lines.appendChild(el);
  });
  c.fans.forEach((fan, i) => {
    const el = document.createElementNS(NS, "path");
    el.setAttribute("d", curve(fanLine(fan, c.base, c.ridge, fanBlend[i]), false, 0.12));
    
    
    lines.appendChild(el);
  });
  const ridgeLine = document.createElementNS(NS, "path");
  ridgeLine.setAttribute("d", curve(c.ridge, false, 0.12));
  
  
  lines.appendChild(ridgeLine);
  c.dark.concat(c.stray).forEach(pts => {
    const el = document.createElementNS(NS, "path");
    el.setAttribute("d", curve(pts, true, 0.17));
    
    
    lines.appendChild(el);
  });

  // ---- frame and ticks ----
  const frame = document.createElementNS(NS, "rect");
  frame.setAttribute("x", c.left);
  frame.setAttribute("y", c.top);
  frame.setAttribute("width", c.right - c.left);
  frame.setAttribute("height", c.bottom - c.top);
  frame.setAttribute("fill", "none");
  frame.setAttribute("stroke", "#444");
  frame.setAttribute("stroke-width", "1");
  
  
  panel.appendChild(frame);

  const ticks = document.createElementNS(NS, "g");
  ticks.setAttribute("stroke", "#444");
  ticks.setAttribute("stroke-width", "1");
  
  
  panel.appendChild(ticks);

  function tick(x1, y1, x2, y2, name) {
    const el = document.createElementNS(NS, "line");
    el.setAttribute("x1", x1);
    el.setAttribute("y1", y1);
    el.setAttribute("x2", x2);
    el.setAttribute("y2", y2);
    
    
    ticks.appendChild(el);
  }
  function lonTicks(list, len, name) {
    list.forEach(l => {
      tick(xAxis(l), c.top, xAxis(l), c.top + len, name);
      tick(xAxis(l), c.bottom, xAxis(l), c.bottom - len, name);
    });
  }
  function velTicks(list, len, name) {
    list.forEach(v => {
      tick(c.left, yAxis(v), c.left + len, yAxis(v), name);
      tick(c.right, yAxis(v), c.right - len, yAxis(v), name);
    });
  }
  lonTicks(c.major, 6.5, "longitude-major-tick");
  lonTicks(c.minor, 3.5, "longitude-minor-tick");
  velTicks(c.vMajor, 7, "velocity-major-tick");
  velTicks(c.vMinor, 3.5, "velocity-minor-tick");

  c.major.forEach(l => {
    const el = document.createElementNS(NS, "text");
    el.setAttribute("class", "tick-label");
    el.setAttribute("x", xAxis(l) + 1);
    el.setAttribute("y", c.bottom + 22);
    el.setAttribute("text-anchor", "middle");
    
    
    el.textContent = String(l);
    panel.appendChild(el);
  });
  if (c.labels) {
    c.labels.forEach((t, i) => {
      const el = document.createElementNS(NS, "text");
      el.setAttribute("class", "tick-label");
      el.setAttribute("x", 1152);
      el.setAttribute("y", yAxis(c.vMajor[i]) + 6);
      
      
      el.textContent = t;
      panel.appendChild(el);
    });
  }
}
panelConfigs.forEach(drawPanel);
</script>
</body>
</html>
